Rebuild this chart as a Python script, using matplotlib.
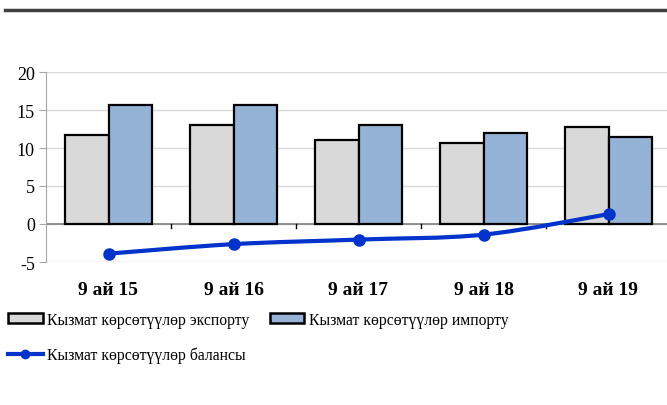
import numpy as np
import matplotlib
matplotlib.use("Agg")
import matplotlib.pyplot as plt
from matplotlib.path import Path
from matplotlib.patches import PathPatch
from matplotlib.lines import Line2D
from matplotlib.patches import Patch

# ---------------- data ----------------
categories = ["9 ай 15", "9 ай 16", "9 ай 17", "9 ай 18", "9 ай 19"]
export = [11.75, 13.0, 11.05, 10.6, 12.8]
imports = [15.7, 15.6, 13.0, 12.0, 11.5]
balance = [-3.9, -2.65, -2.05, -1.4, 1.3]
yticks = [-5, 0, 5, 10, 15, 20]
labels = ["Кызмат көрсөтүүлөр экспорту", "Кызмат көрсөтүүлөр импорту",
          "Кызмат көрсөтүүлөр балансы"]

plt.rcParams["font.family"] = ["Liberation Serif", "DejaVu Serif"]

W, H = 667, 406
fig = plt.figure(figsize=(W / 100, H / 100), dpi=100)
# plot area in pixels: left 46, right 671, top 73 (y=20), bottom 263 (y=-5)
ax = fig.add_axes([46 / W, 1 - 263 / H, (671 - 46) / W, (263 - 73) / H])

x = np.arange(len(categories))
bw = 0.345
ax.bar(x - bw / 2, export, bw, color="#d9d9d9", edgecolor="black", lw=1.6, zorder=3)
ax.bar(x + bw / 2, imports, bw, color="#95b3d7", edgecolor="black", lw=1.6, zorder=3)

# smoothed balance line (Catmull-Rom -> cubic Bezier)
pts = np.column_stack([x, balance]).astype(float)
verts = [pts[0]]; codes = [Path.MOVETO]
for i in range(len(pts) - 1):
    p0 = pts[max(i - 1, 0)]; p1 = pts[i]; p2 = pts[i + 1]; p3 = pts[min(i + 2, len(pts) - 1)]
    c1 = p1 + (p2 - p0) / 6; c2 = p2 - (p3 - p1) / 6
    verts += [c1, c2, p2]; codes += [Path.CURVE4] * 3
ax.add_patch(PathPatch(Path(verts, codes), fill=False, edgecolor="#0033cc", lw=3, zorder=4))
ax.plot(x, balance, "o", color="#0033cc", ms=8, zorder=5)

ax.set_xlim(-0.5, 4.5)
ax.set_ylim(-5, 20)
ax.set_yticks(yticks)
ax.set_yticklabels([str(v) for v in yticks], fontsize=13)
ax.grid(axis="y", color="#d9d9d9", lw=1, zorder=0)
ax.set_axisbelow(True)
for s in ("top", "right", "bottom"):
    ax.spines[s].set_visible(False)
ax.spines["left"].set_color("#a6a6a6")
ax.tick_params(axis="y", length=5, color="#a6a6a6", pad=3)
ax.axhline(0, color="#7f7f7f", lw=1.2, zorder=2)

# category boundary ticks below the zero line
ax.set_xticks([])
for b in x[:-1] + 0.5:
    ax.plot([b, b], [0, -0.55], color="black", lw=1, zorder=2)
for xi, c in zip(x, categories):
    ax.text(xi, -8.6, c, ha="center", va="center", fontsize=14, fontweight="bold")

# thick rule across the top
fig.add_artist(Line2D([5 / W, 1], [1 - 11 / H, 1 - 11 / H], color="#404040", lw=2.5))

h1 = Patch(facecolor="#d9d9d9", edgecolor="black", lw=1.8)
h2 = Patch(facecolor="#95b3d7", edgecolor="black", lw=1.8)
h3 = Line2D([], [], color="#0033cc", lw=3, marker="o", ms=6)
fig.legend([h1, h2], labels[:2], loc="upper left", bbox_to_anchor=(8 / W, 1 - 313 / H),
           ncol=2, frameon=False, fontsize=11.3, handlelength=2.2, handleheight=0.6,
           handletextpad=0.3, columnspacing=1.3, borderaxespad=0, borderpad=0)
fig.legend([h3], labels[2:], loc="upper left", bbox_to_anchor=(8 / W, 1 - 348 / H),
           frameon=False, fontsize=11.3, handlelength=2.2, handletextpad=0.3,
           borderaxespad=0, borderpad=0)

fig.savefig("out.png", dpi=100)
